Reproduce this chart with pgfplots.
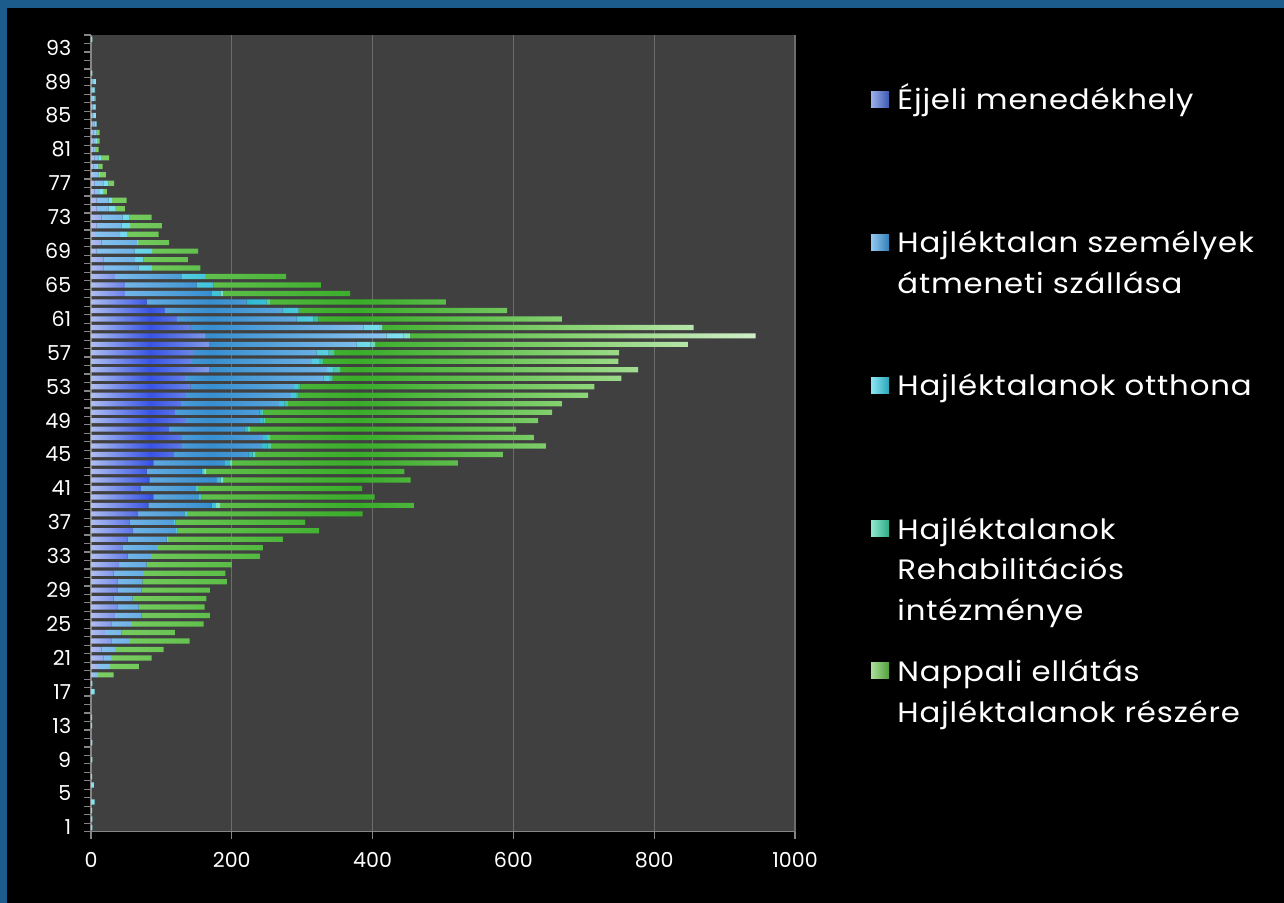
\documentclass[border=0pt]{standalone}
\usepackage{pgfplots}
\pgfplotsset{compat=1.18}
\usepackage{pgfplotstable}
\usepackage{fontspec}
\setmainfont{Poppins}
\newfontfamily\legfam{Poppins}[FakeStretch=1.1, LetterSpace=3]

\definecolor{frameblue}{HTML}{1B5C8C}
\definecolor{plotgray}{HTML}{404040}
\definecolor{gridgray}{HTML}{6C6C6C}
\definecolor{axgray}{HTML}{858585}
\definecolor{cE}{HTML}{4A6FDC}
\definecolor{cA}{HTML}{3D9EE6}
\definecolor{cO}{HTML}{33D0E8}
\definecolor{cR}{HTML}{38D6A8}
\definecolor{cN}{HTML}{66C64A}

% light - dark - light along each series
\pgfdeclarehorizontalshading{shE}{100bp}{color(0bp)=(cE!45!white); color(25bp)=(cE!45!white); color(50bp)=(cE!75!blue); color(75bp)=(cE!70!white); color(100bp)=(cE!70!white)}
\pgfdeclarehorizontalshading{shA}{100bp}{color(0bp)=(cA!60!white); color(25bp)=(cA!60!white); color(45bp)=(cA!90!black); color(75bp)=(cA!60!white); color(100bp)=(cA!60!white)}
\pgfdeclarehorizontalshading{shO}{100bp}{color(0bp)=(cO!60!white); color(25bp)=(cO!60!white); color(50bp)=(cO!90!black); color(75bp)=(cO!60!white); color(100bp)=(cO!60!white)}
\pgfdeclarehorizontalshading{shR}{100bp}{color(0bp)=(cR!60!white); color(25bp)=(cR!60!white); color(50bp)=(cR!90!black); color(75bp)=(cR!60!white); color(100bp)=(cR!60!white)}
\pgfdeclarehorizontalshading{shN}{100bp}{color(0bp)=(cN!85!white); color(25bp)=(cN!85!white); color(45bp)=(cN!70!green!80!black); color(62bp)=(cN!75!white); color(75bp)=(cN!30!white); color(100bp)=(cN!30!white)}

% age, Ejjeli, Atmeneti, Otthona, Rehab, Nappali
\pgfplotstableread{
age E A O R N
1 0 0 2 0 0
2 0 0 2 0 0
3 0 0 1.5 0 0
4 0 0 5 0 0
5 0 0 0 0 0
6 0 0 4 0 0
7 0 0 1.5 0 0
8 0 0 0 0 0
9 0 0 2 0 0
10 0 0 0 0 0
11 0 0 2 0 0
12 0 0 0 0 0
13 0 0 1.5 0 0
14 1.5 0 0 0 0
15 0 0 0 0 0
16 0 0 0 0 0
17 0 0 5 0 0
18 0 0 2 0 0
19 3 7 0 0 22
20 10 17 0 0 41
21 17.5 11 0 0 57.5
22 15 19 0 0 69
23 29 25 0 0 86
24 20 23.6 0 0 75.4
25 29 28 0 0 103
26 34 38 0 0 97
27 37.5 30 0 0 94
28 32 27 0 0 105
29 37.5 34.5 0 0 97
30 37.5 35.5 0 0 120
31 32 42 0 0 117
32 40 39 0 0 121
33 52 33 0 0 155
34 44.5 49.5 0 0 150
35 52 55.5 2 0 163
36 60 61 2 0 201
37 55 63 2 0 184
38 67 65.6 4 0 249.4
39 81.5 90 6 6 275
40 88.6 64 4.7 0 245.7
41 71 78 3 0 233
42 83 96 5 3.5 266.5
43 79 78 4 2 282
44 88.6 102 6 3.5 321
45 117 106.6 6 3.5 352
46 129 113.6 8 5 390.4
47 129 115 6 4.5 374.5
48 111 107 5 3 378
49 135 105 5 3 387
50 119 120 4 2 410
51 128 139 8 4.6 389.4
52 135 149 7 4 411
53 141 147 6 3.5 417.5
54 133.6 196.6 8 5 410
55 168 167 9.5 9.5 423
56 142 171.6 10 6.6 418.8
57 145 175 17.5 8 404.5
58 168 209 20 7 444
59 162 258 24 9 491
60 141 246 22 5 442
61 122 170 24 7 346
62 105 167 23 0 296
63 79 142 28 5 250
64 48 123.6 12 4.4 180
65 48 102 24 0 152.5
66 34 95 33 0 115
67 17.5 50 19 0 69
68 17.5 45 12 0 63
69 8 54 25 0 65
70 15 50 2 0 44
71 6 35.5 9.5 0 45
72 8 35.5 12 0 45
73 15 30 10 0 31
74 8 16.6 9.5 0 14
75 8 16.6 5 0 21
76 4.7 8 4.7 0 5
77 4.7 13 7 0 8
78 4.3 6 2.4 0 8.6
79 3.8 5 1.6 0 6.2
80 4.7 5.7 4.6 0 10.6
81 3.3 2.4 1 0 4.2
82 3.3 3.7 1.5 0 3.8
83 3.3 2.4 2.3 0 4.3
84 2 3 3 0 0
85 2 2 3 0 0
86 2 2 2 0 1
87 1 2 2 0 1.5
88 1 2 2 0 1
89 2 2 3 0 0
90 0 0 2 0 0
91 0 0 0 0 0
92 0 0 0 0 0
93 0 0 0 0 0
94 0 0 2 0 0
}\data

\newcommand\legfont{\legfam\fontsize{14pt}{16pt}\selectfont}
\newcommand\tickfont{\fontsize{10.3pt}{12pt}\selectfont}

\begin{document}
\begin{tikzpicture}
% background: blue frame at left and top, black inside (pixel units)
\begin{scope}[x=0.5pt,y=-0.5pt,yshift=451.5pt]
  \fill[frameblue] (0,0) rectangle (1284,903);
  \fill[black] (7,8) rectangle (1284,903);
\end{scope}
\useasboundingbox (0,0) rectangle (642pt,451.5pt);

\begin{axis}[
  at={(45.5pt,35.65pt)}, anchor=south west,
  scale only axis, width=352pt, height=398.35pt,
  axis background/.style={fill=plotgray},
  xbar stacked, bar width=2.6pt,
  xmin=0, xmax=1000, ymin=0.5, ymax=94.5,
  xtick={0,200,...,1000},
  xticklabels={0,200,400,600,800,1000},
  ytick={1,5,...,93},
  minor ytick={0.5,1.5,...,94.5},
  axis x line*=bottom, axis y line*=left,
  xtick pos=left, ytick pos=left,
  axis line style={axgray, line width=0.7pt, -},
  tick align=outside,
  major tick length=3.5pt, minor tick length=3.3pt,
  major x tick style={axgray, line width=0.6pt},
  major y tick style={draw=none},
  minor y tick style={axgray, line width=0.6pt},
  xmajorgrids, major x grid style={gridgray, line width=0.6pt},
  ticklabel style={font=\tickfont, text=white},
  /pgf/number format/assume math mode=true,
  yticklabel style={inner sep=0pt, xshift=-6.2pt},
  xticklabel style={inner sep=0pt, yshift=-6.5pt},
]
\addplot[draw=none, shade, shading=shE] table[x=E, y=age] {\data};
\addplot[draw=none, shade, shading=shA] table[x=A, y=age] {\data};
\addplot[draw=none, shade, shading=shO] table[x=O, y=age] {\data};
\addplot[draw=none, shade, shading=shR] table[x=R, y=age] {\data};
\addplot[draw=none, shade, shading=shN] table[x=N, y=age] {\data};
\end{axis}

% legend (pixel units)
\begin{scope}[x=0.5pt,y=-0.5pt,yshift=451.5pt]
  \tikzset{lt/.style={anchor=base west, inner sep=0pt, text=white, font=\legfont},
           lb/.style={shade, shading=axis, shading angle=135}}
  \fill[lb, left color=cE!55!white, right color=cE!80!black] (871,92) rectangle (889,108);
  \node[lt] at (897,110) {Éjjeli menedékhely};
  \fill[lb, left color=cA!55!white, right color=cA!80!black] (871,235) rectangle (889,251);
  \node[lt] at (897,252.7) {Hajléktalan személyek};
  \node[lt] at (897,293.3) {átmeneti szállása};
  \fill[lb, left color=cO!55!white, right color=cO!80!black] (871,378) rectangle (889,394);
  \node[lt] at (897,396) {Hajléktalanok otthona};
  \fill[lb, left color=cR!55!white, right color=cR!80!black] (871,521) rectangle (889,537);
  \node[lt] at (897,539.3) {Hajléktalanok};
  \node[lt] at (897,580) {Rehabilitációs};
  \node[lt] at (897,620.5) {intézménye};
  \fill[lb, left color=cN!55!white, right color=cN!80!black] (871,663) rectangle (889,679);
  \node[lt] at (897,681.7) {Nappali ellátás};
  \node[lt] at (897,722.7) {Hajléktalanok részére};
\end{scope}
\end{tikzpicture}
\end{document}
